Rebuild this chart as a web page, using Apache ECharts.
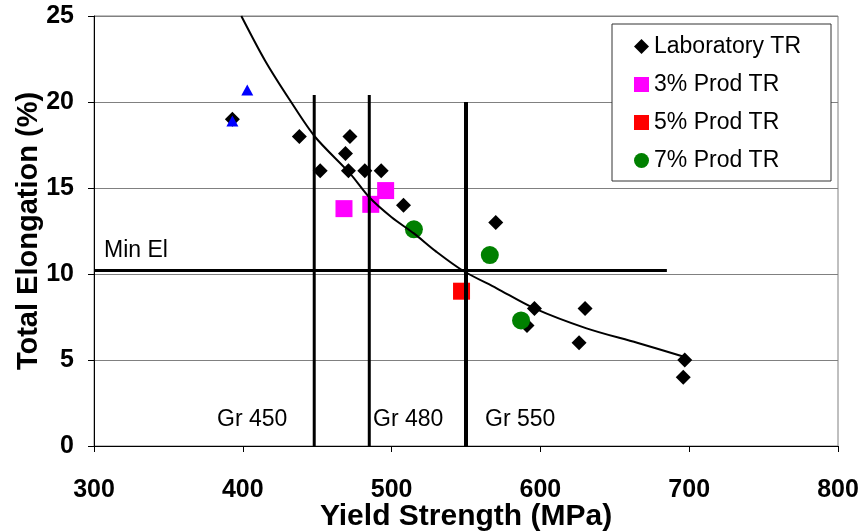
<!DOCTYPE html>
<html>
<head>
<meta charset="utf-8">
<title>Total Elongation vs Yield Strength</title>
<script src="https://cdn.jsdelivr.net/npm/echarts@6/dist/echarts.min.js"></script>
<style>
	html,body{margin:0;padding:0;background:#fff;}
	#chart{width:864px;height:531px;}
</style>
</head>
<body>
<div id="chart"></div>
<script>
'use strict';
// data: [yield strength MPa, total elongation %]
var labTR = [[393,19],[438,18],[472,18],[469,17],[452,16],[471,16],[482,16],[493,16],[508,14],
	[570,13],[596,8],[591,7],[630,8],[626,6],[697,5],[696,4]];
var prod3 = [[468,13.8],[486,14.05],[496,14.85]];
var prod5 = [[547,9.0]];
var prod7 = [[515,12.6],[566,11.1],[587,7.3]];
var blueTri = [[393,18.9],[403,20.7]];
// trend curve, points
var trend = [[399,25],[415,22.4],[431.7,20.1],[448.5,17.98],[472,15.85],[485,14.46],[500,13.3],
	[515,12.36],[530,11.3],[548,10.19],[570.6,9.17],[596,8.0],[631,6.84],[665,6.0],[696.5,5.19]];
// grade lines and min elongation
var grades = [{name:'Gr 450',x:448,top:20.4},{name:'Gr 480',x:485,top:20.4},{name:'Gr 550',x:550,top:20.0}];
var minEl = {y:10.2,from:300,to:685};
var xTicks = [300,400,500,600,700,800];
var yTicks = [0,5,10,15,20,25];

var FONT = '"Liberation Sans", Arial, sans-serif';

var chart = echarts.init(document.getElementById('chart'));

function gradeSeries(g){
	return {
		name: g.name,
		type: 'line',
		data: [[g.x,0],[g.x,g.top]],
		symbol: 'none',
		z: 5,
		silent: true,
		lineStyle: {color:'#000',width:g.name=='Gr 550'?4:3}
	};
}

function dots(name,data,symbol,size,color,z){
	return {name:name,type:'scatter',data:data,symbol:symbol,symbolSize:size,z:z||2,
		itemStyle:{color:color,opacity:1}};
}

var series = [
	dots('Laboratory TR',labTR,'diamond',15,'#000'),
	dots('3% Prod TR',prod3,'rect',17,'#ff00ff'),
	dots('5% Prod TR',prod5,'rect',17,'#ff0000'),
	dots('7% Prod TR',prod7,'circle',18,'#008000'),
	dots('blue',blueTri,'triangle',[12,11],'#0000ff',3),
	{name:'trend',type:'line',data:trend,smooth:0.3,symbol:'none',z:6,
		lineStyle:{color:'#000',width:2}},
	{name:'Min El',type:'line',data:[[minEl.from,minEl.y],[minEl.to,minEl.y]],symbol:'none',z:5,
		lineStyle:{color:'#000',width:3}}
];
grades.forEach(function(g){ series.push(gradeSeries(g)); });

chart.setOption({
	animation: false,
	textStyle: {fontFamily: FONT},
	grid: {left:94,right:26,top:16,bottom:85,outerBoundsMode:'none',
		show:true,borderColor:'#808080',borderWidth:1},
	legend: {
		orient: 'vertical',
		left: 612, top: 24,
		padding: [11,30,9,22],
		itemGap: 15,
		itemWidth: 15, itemHeight: 15,
		backgroundColor: '#fff',
		borderColor: '#333',
		borderWidth: 1,
		borderRadius: 0,
		textStyle: {fontSize:23,color:'#000',fontFamily:FONT},
		data: [
			{name:'Laboratory TR',icon:'diamond'},
			{name:'3% Prod TR',icon:'rect'},
			{name:'5% Prod TR',icon:'rect'},
			{name:'7% Prod TR',icon:'circle'}
		]
	},
	xAxis: {
		type: 'value', min: xTicks[0], max: xTicks[xTicks.length-1], interval: 100,
		name: 'Yield Strength (MPa)', nameLocation: 'middle', nameGap: 56, nameMoveOverlap: false,
		nameTextStyle: {fontSize:30,fontWeight:'bold',color:'#000'},
		axisLine: {lineStyle:{color:'#000',width:1}},
		axisTick: {show:true,length:6,lineStyle:{color:'#000'}},
		axisLabel: {fontSize:25,fontWeight:'bold',color:'#000',margin:32},
		splitLine: {show:false}
	},
	yAxis: {
		type: 'value', min: yTicks[0], max: yTicks[yTicks.length-1], interval: 5,
		name: 'Total Elongation (%)', nameLocation: 'middle', nameGap: 51, nameMoveOverlap: false,
		nameTextStyle: {fontSize:29,fontWeight:'bold',color:'#000'},
		axisLine: {show:true,lineStyle:{color:'#000',width:1}},
		axisTick: {show:true,length:6,lineStyle:{color:'#000'}},
		axisLabel: {fontSize:25,fontWeight:'bold',color:'#000',margin:20},
		splitLine: {show:true,lineStyle:{color:'#808080',width:1}}
	},
	graphic: [
		{type:'text',left:104,top:239,style:{text:'Min El',font:'23px '+FONT,fill:'#000'}},
		{type:'text',left:217,top:408,style:{text:'Gr 450',font:'23px '+FONT,fill:'#000'}},
		{type:'text',left:373,top:408,style:{text:'Gr 480',font:'23px '+FONT,fill:'#000'}},
		{type:'text',left:485,top:408,style:{text:'Gr 550',font:'23px '+FONT,fill:'#000'}}
	],
	series: series
});
</script>
</body>
</html>
